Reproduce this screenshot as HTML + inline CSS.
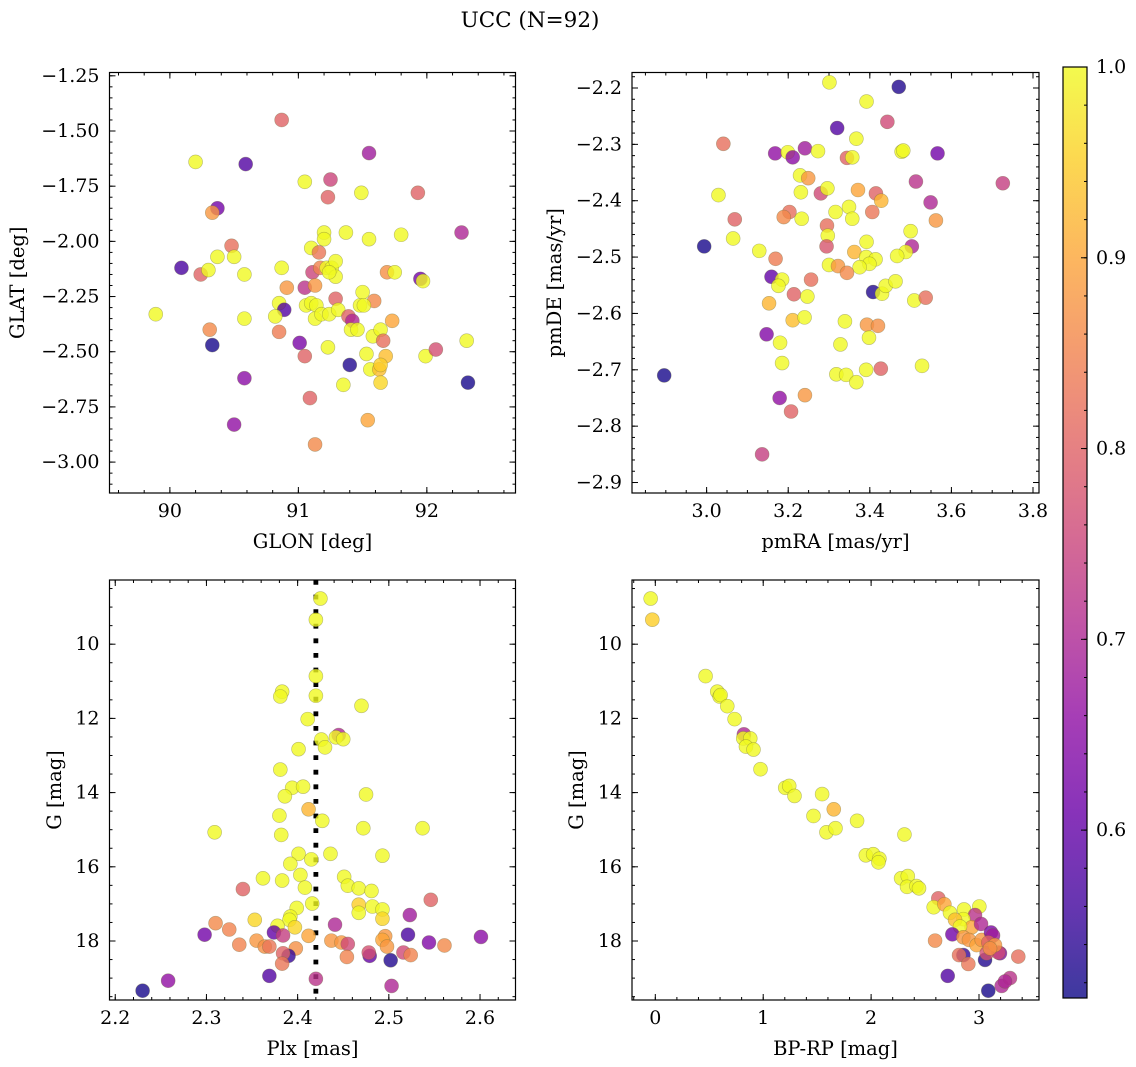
<!DOCTYPE html>
<html><head><meta charset="utf-8">
<style>
html,body{margin:0;padding:0;background:#fff;}
svg{display:block;font-family:"DejaVu Serif","Liberation Serif",serif;}
</style></head>
<body>
<svg id="fig" width="1136" height="1067" viewBox="0 0 1136 1067" xmlns="http://www.w3.org/2000/svg">
<text x="530" y="27" font-size="21.5" text-anchor="middle">UCC (N=92)</text>
</svg>
<script>
// ---- Panel 1: GLON vs GLAT ----
const p1_glon=[90.87,91.55,90.20,90.59,91.05,91.25,91.23,91.49,91.93,90.37,90.33,92.27,91.20,91.20,91.37,91.55,91.80,90.48,90.37,90.50,91.10,91.16,90.09,90.24,90.30,90.58,90.87,91.11,91.17,91.22,91.26,91.29,91.29,91.24,91.69,91.75,91.95,91.97,90.91,91.05,91.13,91.50,91.29,91.59,90.85,90.89,90.82,91.06,91.10,91.14,91.13,91.18,91.24,91.31,91.48,91.51,91.39,91.42,91.41,91.46,91.73,89.89,90.58,90.31,90.85,90.33,91.01,91.05,91.23,91.58,91.64,91.66,91.53,91.68,91.99,92.07,92.31,91.40,91.56,91.63,91.64,91.64,91.35,90.58,92.32,91.09,90.50,91.54,91.13];
const p1_glat=[-1.45,-1.60,-1.64,-1.65,-1.73,-1.72,-1.80,-1.78,-1.78,-1.85,-1.87,-1.96,-1.96,-1.99,-1.96,-1.99,-1.97,-2.02,-2.07,-2.07,-2.03,-2.05,-2.12,-2.15,-2.13,-2.15,-2.12,-2.14,-2.12,-2.12,-2.12,-2.09,-2.16,-2.14,-2.14,-2.14,-2.17,-2.18,-2.21,-2.21,-2.20,-2.23,-2.26,-2.27,-2.28,-2.31,-2.34,-2.29,-2.28,-2.29,-2.35,-2.33,-2.33,-2.31,-2.29,-2.29,-2.34,-2.36,-2.40,-2.40,-2.36,-2.33,-2.35,-2.40,-2.41,-2.47,-2.46,-2.52,-2.48,-2.43,-2.40,-2.45,-2.51,-2.52,-2.52,-2.49,-2.45,-2.56,-2.58,-2.58,-2.56,-2.64,-2.65,-2.62,-2.64,-2.71,-2.83,-2.81,-2.92];
const p1_prob=[0.80,0.68,1,0.58,1,0.75,0.80,1,0.80,0.62,0.88,0.70,1,1,1,1,1,0.82,1,1,1,0.83,0.57,0.80,1,1,1,0.75,0.85,1,1,1,1,1,0.87,1,0.62,1,0.88,0.72,0.88,1,0.80,0.86,1,0.58,1,1,1,1,1,1,1,1,1,1,0.80,0.70,1,1,0.90,1,1,0.86,0.84,0.52,0.63,0.80,1,1,1,0.82,1,0.93,1,0.77,1,0.53,1,0.93,0.95,0.96,1,0.65,0.52,0.80,0.66,0.90,0.86];
// ---- Panel 2: pmRA vs pmDE ----
const p2_pmra=[3.301,3.471,3.392,3.443,3.320,3.367,3.041,3.168,3.199,3.211,3.241,3.273,3.344,3.357,3.478,3.482,3.566,3.726,3.513,3.229,3.249,3.280,3.296,3.231,3.371,3.415,3.428,3.029,3.549,3.406,3.316,3.349,3.357,3.203,3.189,3.233,3.069,3.562,3.295,3.297,3.294,3.500,3.503,3.488,3.467,2.994,3.065,3.129,3.169,3.392,3.362,3.391,3.414,3.399,3.375,3.300,3.322,3.344,3.159,3.185,3.176,3.256,3.408,3.430,3.439,3.463,3.509,3.537,3.214,3.247,3.153,3.211,3.240,3.339,3.393,3.420,3.398,3.147,3.180,3.328,3.185,3.318,3.342,3.367,3.391,3.427,3.528,2.896,3.179,3.241,3.207,3.136];
const p2_pmde=[-2.190,-2.198,-2.224,-2.260,-2.271,-2.290,-2.299,-2.316,-2.314,-2.323,-2.307,-2.312,-2.324,-2.323,-2.313,-2.311,-2.316,-2.369,-2.366,-2.355,-2.360,-2.387,-2.378,-2.385,-2.381,-2.387,-2.400,-2.390,-2.403,-2.420,-2.420,-2.411,-2.432,-2.420,-2.429,-2.432,-2.433,-2.435,-2.444,-2.462,-2.481,-2.454,-2.481,-2.491,-2.498,-2.481,-2.467,-2.489,-2.503,-2.473,-2.491,-2.500,-2.504,-2.512,-2.518,-2.514,-2.516,-2.528,-2.535,-2.540,-2.551,-2.540,-2.562,-2.565,-2.551,-2.543,-2.577,-2.572,-2.566,-2.570,-2.582,-2.612,-2.607,-2.614,-2.620,-2.622,-2.643,-2.637,-2.652,-2.655,-2.688,-2.708,-2.709,-2.722,-2.700,-2.698,-2.693,-2.710,-2.750,-2.745,-2.774,-2.850];
const p2_prob=[1,0.53,1,0.76,0.58,1,0.82,0.66,1,0.65,0.68,1,0.80,1,1,1,0.62,0.74,0.72,1,0.88,0.76,1,1,0.90,0.80,0.92,1,0.70,0.83,1,1,1,0.82,0.86,1,0.80,0.88,0.82,1,0.78,1,0.70,1,1,0.52,1,1,0.84,1,0.92,1,1,1,1,1,0.88,0.86,0.60,1,1,0.82,0.53,1,1,1,1,0.82,0.80,1,0.92,0.93,1,1,0.88,0.87,1,0.64,1,1,1,1,1,1,1,0.80,1,0.52,0.66,0.88,0.80,0.74];
// ---- Panel 3: Plx vs G ----
const p3_plx=[2.425,2.420,2.420,2.383,2.381,2.420,2.470,2.411,2.445,2.442,2.450,2.426,2.430,2.401,2.381,2.394,2.406,2.386,2.475,2.412,2.427,2.380,2.309,2.382,2.472,2.537,2.401,2.436,2.493,2.392,2.415,2.362,2.383,2.403,2.408,2.451,2.455,2.467,2.481,2.340,2.546,2.399,2.416,2.467,2.467,2.482,2.493,2.493,2.523,2.353,2.392,2.391,2.397,2.378,2.441,2.310,2.325,2.298,2.374,2.384,2.336,2.355,2.364,2.369,2.398,2.412,2.437,2.448,2.455,2.496,2.493,2.498,2.521,2.544,2.561,2.601,2.390,2.384,2.383,2.454,2.479,2.478,2.502,2.516,2.524,2.369,2.420,2.503,2.258,2.230];
const p3_g=[8.77,9.34,10.86,11.28,11.41,11.39,11.66,12.02,12.45,12.51,12.56,12.57,12.78,12.83,13.38,13.87,13.84,14.10,14.05,14.45,14.76,14.62,15.07,15.14,14.96,14.96,15.65,15.65,15.70,15.92,15.80,16.31,16.37,16.22,16.56,16.27,16.51,16.58,16.65,16.60,16.89,17.11,16.99,17.02,17.24,17.07,17.15,17.40,17.30,17.43,17.34,17.43,17.63,17.59,17.56,17.52,17.69,17.83,17.77,17.85,18.10,17.99,18.15,18.15,18.20,17.86,17.99,18.04,18.08,17.87,17.97,18.15,17.83,18.04,18.12,17.89,18.40,18.33,18.61,18.43,18.40,18.31,18.52,18.31,18.38,18.94,19.02,19.21,19.07,19.34];
const p3_prob=[1,1,1,1,1,1,1,1,0.70,1,1,1,1,1,1,1,1,1,1,0.92,1,1,1,1,1,1,1,1,1,1,1,1,1,1,1,1,1,1,1,0.80,0.80,1,1,0.95,1,1,1,0.96,0.68,0.96,1,1,0.96,1,0.70,0.86,0.85,0.62,0.60,0.74,0.85,0.88,0.87,0.83,0.87,0.90,0.88,0.88,0.76,0.88,0.90,0.88,0.57,0.64,0.86,0.65,0.55,0.80,0.83,0.85,0.60,0.77,0.53,0.76,0.85,0.58,0.72,0.70,0.66,0.52];
const plxMean=[2.42];
// ---- Panel 4: BP-RP vs G ----
const p4_bprp=[-0.043,-0.028,0.466,0.574,0.596,0.605,0.667,0.735,0.821,0.815,0.880,0.840,0.910,0.975,1.204,1.241,1.290,1.546,1.654,1.466,1.870,1.586,1.670,2.309,1.951,2.019,2.077,2.068,2.278,2.340,2.333,2.420,2.444,2.623,2.580,2.679,2.731,2.861,3.003,2.963,2.855,2.778,2.932,3.019,2.824,2.753,2.855,2.907,2.978,3.025,3.111,3.130,3.086,2.593,3.194,3.179,3.364,2.855,2.815,2.901,3.056,3.071,2.710,3.086,3.210,3.287,3.241,3.148,3.102];
const p4_g=[8.77,9.34,10.86,11.28,11.41,11.37,11.67,12.02,12.43,12.54,12.54,12.76,12.84,13.37,13.87,13.82,14.09,14.04,14.45,14.63,14.76,15.07,14.96,15.13,15.69,15.66,15.78,15.88,16.31,16.25,16.54,16.52,16.58,16.85,17.09,17.01,17.24,17.15,17.07,17.30,17.41,17.43,17.63,17.54,17.61,17.82,17.90,17.97,18.11,17.97,17.77,17.85,18.04,17.99,18.33,18.31,18.42,18.38,18.38,18.62,18.51,18.33,18.94,19.34,19.21,19.00,19.09,18.11,18.20];
const p4_prob=[1,0.95,1,1,1,1,1,1,0.70,1,1,1,1,1,1,1,1,1,0.92,1,1,1,1,1,1,1,1,1,1,1,1,1,1,0.80,1,0.90,1,1,1,0.72,1,0.93,0.90,0.70,1,0.62,0.88,0.88,0.90,0.88,0.63,0.68,0.80,0.86,0.64,0.76,0.82,0.55,0.82,0.83,0.53,0.77,0.58,0.52,0.70,0.72,0.70,0.88,0.87];
// ---- Colorbar ----
const cbTicks=[0.6,0.7,0.8,0.9,1.0];
const cbRange=[0.512,1.0];

const NS="http://www.w3.org/2000/svg";
const svg=document.getElementById('fig');
function mk(tag,attrs,parent){const e=document.createElementNS(NS,tag);for(const k in attrs)e.setAttribute(k,attrs[k]);(parent||svg).appendChild(e);return e;}
const stops=[[13,8,135],[65,4,157],[106,0,168],[143,13,164],[177,42,144],[204,71,120],[225,100,98],[242,132,75],[252,166,54],[252,206,37],[240,249,33]];
function plasma(t){t=Math.max(0,Math.min(1,t));const s=t*10;const i=Math.min(9,Math.floor(s));const f=s-i;const a=stops[i],b=stops[i+1];
 return 'rgb('+[0,1,2].map(k=>Math.round(a[k]+(b[k]-a[k])*f)).join(',')+')';}
function cnorm(v){return (v-cbRange[0])/(cbRange[1]-cbRange[0]);}
function fmt(v,d){const s=v.toFixed(d);return s.replace('-','\u2212');}
const TF=19, LF=19.5;

function panel(cfg){
 const {name,x0,x1,y0,y1,xmin,xmax,ymin,ymax,invert}=cfg;
 const sx=v=>x0+(v-xmin)/(xmax-xmin)*(x1-x0);
 const sy=invert? (v=>y0+(v-ymin)/(ymax-ymin)*(y1-y0)) : (v=>y1-(v-ymin)/(ymax-ymin)*(y1-y0));
 const g=mk('g',{});
 
 
 const clipId=name+'-clip';
 const cp=mk('clipPath',{id:clipId},g);mk('rect',{x:x0,y:y0,width:x1-x0,height:y1-y0},cp);
 const pts=mk('g',{'clip-path':'url(#'+clipId+')'},g);
 
 
 if(cfg.vline){const vl=mk('line',{x1:sx(cfg.vline[0]),x2:sx(cfg.vline[0]),y1:y0,y2:y1,stroke:'#000','stroke-width':4.8,'stroke-dasharray':'4.8 9.8'},pts);
  
  }
 for(let i=0;i<cfg.xs.length;i++){
  const c=mk('circle',{cx:sx(cfg.xs[i]),cy:sy(cfg.ys[i]),r:7,fill:plasma(cnorm(cfg.cs[i])),'fill-opacity':0.8,stroke:'#6b6b3a','stroke-opacity':0.45,'stroke-width':0.6},pts);
  
  
 }
 const tk=mk('g',{stroke:'#000','stroke-width':1},g);
 function ticks(min,max,step){const out=[];const s=Math.ceil(min/step-1e-9);for(let k=s;k*step<=max+1e-9;k++)out.push(+(k*step).toFixed(6));return out;}
 ticks(xmin,xmax,cfg.xminor).forEach(v=>{const X=sx(v);mk('line',{x1:X,x2:X,y1:y1,y2:y1-3},tk);mk('line',{x1:X,x2:X,y1:y0,y2:y0+3},tk);});
 ticks(ymin,ymax,cfg.yminor).forEach(v=>{const Y=sy(v);mk('line',{x1:x0,x2:x0+3,y1:Y,y2:Y},tk);mk('line',{x1:x1,x2:x1-3,y1:Y,y2:Y},tk);});
 ticks(xmin,xmax,cfg.xmajor).forEach(v=>{const X=sx(v);mk('line',{x1:X,x2:X,y1:y1,y2:y1-6},tk);mk('line',{x1:X,x2:X,y1:y0,y2:y0+6},tk);
  const t=mk('text',{x:X,y:y1+24,'font-size':TF,'text-anchor':'middle'},g);t.textContent=fmt(v,cfg.xdec);
  
  });
 ticks(ymin,ymax,cfg.ymajor).forEach(v=>{const Y=sy(v);mk('line',{x1:x0,x2:x0+6,y1:Y,y2:Y},tk);mk('line',{x1:x1,x2:x1-6,y1:Y,y2:Y},tk);
  const t=mk('text',{x:x0-10,y:Y+6,'font-size':TF,'text-anchor':'end'},g);t.textContent=fmt(v,cfg.ydec);
  
  });
 const fr=mk('rect',{x:x0,y:y0,width:x1-x0,height:y1-y0,fill:'none',stroke:'#000','stroke-width':1.2},g);
 
 
 const xl=mk('text',{x:(x0+x1)/2,y:y1+55,'font-size':LF,'text-anchor':'middle'},g);xl.textContent=cfg.xlabel;
 
 
 const yx=cfg.ylx,yy=(y0+y1)/2;
 const yl=mk('text',{x:yx,y:yy,'font-size':LF,'text-anchor':'middle',transform:'rotate(-90 '+yx+' '+yy+')'},g);yl.textContent=cfg.ylabel;
 
 
}
panel({name:'glon-glat-panel',x0:109.5,x1:515.5,y0:72.5,y1:493,xmin:89.53,xmax:92.69,ymin:-3.14,ymax:-1.235,xmajor:1,xminor:0.2,ymajor:0.25,yminor:0.05,xdec:0,ydec:2,xs:p1_glon,ys:p1_glat,cs:p1_prob,xlabel:'GLON [deg]',ylabel:'GLAT [deg]',ylx:24});
panel({name:'pm-panel',x0:632,x1:1039,y0:72.5,y1:493,xmin:2.8171,xmax:3.8147,ymin:-2.9186,ymax:-2.1725,xmajor:0.2,xminor:0.05,ymajor:0.1,yminor:0.02,xdec:1,ydec:1,xs:p2_pmra,ys:p2_pmde,cs:p2_prob,xlabel:'pmRA [mas/yr]',ylabel:'pmDE [mas/yr]',ylx:561});
panel({name:'plx-g-panel',x0:109.5,x1:515.5,y0:580,y1:1000,xmin:2.1937,xmax:2.6389,ymin:8.27,ymax:19.59,invert:true,xmajor:0.1,xminor:0.02,ymajor:2,yminor:0.5,xdec:1,ydec:0,xs:p3_plx,ys:p3_g,cs:p3_prob,vline:plxMean,xlabel:'Plx [mas]',ylabel:'G [mag]',ylx:61});
panel({name:'cmd-panel',x0:632,x1:1039,y0:580,y1:1000,xmin:-0.216,xmax:3.556,ymin:8.27,ymax:19.59,invert:true,xmajor:1,xminor:0.2,ymajor:2,yminor:0.5,xdec:0,ydec:0,xs:p4_bprp,ys:p4_g,cs:p4_prob,xlabel:'BP-RP [mag]',ylabel:'G [mag]',ylx:583});

(function(){
 const cx0=1063,cx1=1087,cy0=67,cy1=998;
 const g=mk('g',{});
 
 
 const defs=mk('defs',{},g);
 const lg=mk('linearGradient',{id:'cbg',x1:0,y1:1,x2:0,y2:0},defs);
 for(let i=0;i<=20;i++){mk('stop',{offset:(i/20),'stop-color':plasma(i/20),'stop-opacity':0.8},lg);}
 mk('rect',{x:cx0,y:cy0,width:cx1-cx0,height:cy1-cy0,fill:'url(#cbg)'},g);
 mk('rect',{x:cx0,y:cy0,width:cx1-cx0,height:cy1-cy0,fill:'none',stroke:'#000','stroke-width':1.2},g);
 const sy=v=>cy1-(v-cbRange[0])/(cbRange[1]-cbRange[0])*(cy1-cy0);
 for(let k=26;k<=50;k++){const v=k*0.02;if(v<cbRange[0]||v>cbRange[1]+1e-9)continue;const Y=sy(v);mk('line',{x1:cx1,x2:cx1-3,y1:Y,y2:Y,stroke:'#000'},g);}
 cbTicks.forEach(v=>{const Y=sy(v);mk('line',{x1:cx1,x2:cx1-6,y1:Y,y2:Y,stroke:'#000'},g);
  const t=mk('text',{x:cx1+9,y:Y+6,'font-size':TF},g);t.textContent=v.toFixed(1);
  
  });
})();
</script>
</body></html>
